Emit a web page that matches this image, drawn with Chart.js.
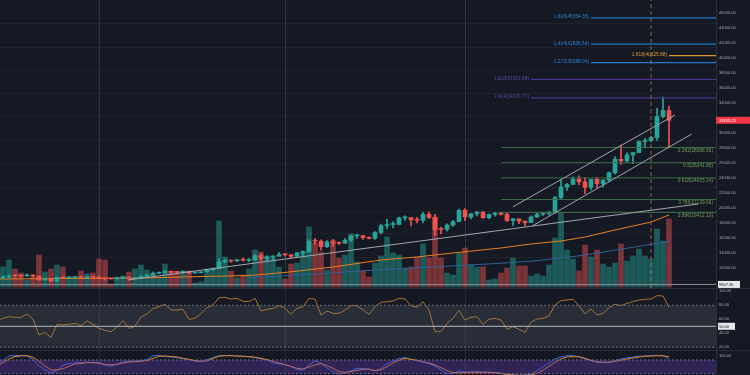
<!DOCTYPE html>
<html>
<head>
<meta charset="utf-8">
<script src="https://cdn.jsdelivr.net/npm/chart.js@4.4.0/dist/chart.umd.min.js"></script>
<style>
  html, body { margin: 0; padding: 0; background: #2a2e39; }
  #wrap { position: relative; width: 750px; height: 375px; overflow: hidden; background: #2a2e39; }
  canvas { position: absolute; left: 0; }
  #main { top: 0; }
  #rsi { top: 289px; }
  #stoch { top: 351px; }
</style>
</head>
<body>
<div id="wrap">
  <canvas id="main" width="750" height="288"></canvas>
  <canvas id="rsi" width="750" height="61"></canvas>
  <canvas id="stoch" width="750" height="24"></canvas>
</div>
<script>
// BTC daily, 14 Sep 2020 .. 4 Jan 2021 (index 0..112)
const opens = [10330,10680,10790,10955,10940,10930,11080,10920,10420,10530,
  10240,10740,10690,10730,10775,10700,10840,10780,10620,10570,
  10550,10670,10790,10600,10670,10920,11060,11300,11380,11550,
  11430,11420,11500,11320,11360,11500,11750,11920,12820,12970,
  12930,13110,13030,13070,13650,13280,13460,13560,13800,13760,
  13550,14030,14150,15590,15580,14840,15480,15330,15300,15700,
  16280,16320,16070,15960,16720,17650,17800,17820,18680,18720,
  18420,18370,19160,18730,17150,17140,17720,18180,19700,18800,
  19220,19450,18700,19150,19360,19170,18320,18550,18250,18040,
  18800,19170,19270,19440,21380,22800,23140,23870,23480,22750,
  23820,23240,23730,24710,26490,26280,27080,27390,28880,28990,
  29390,32200,33000];
const highs = [10800,10940,11100,11040,11050,11180,11100,10990,10590,10560,
  10780,10760,10780,10800,10950,10880,10850,10920,10650,10600,
  10690,10800,10800,10680,10940,11100,11480,11440,11720,11560,
  11550,11630,11550,11420,11500,11820,12000,13220,13180,13020,
  13170,13350,13240,13780,13850,13620,13640,14090,13900,13810,
  14070,14240,15750,15960,15760,15650,15800,15450,15940,16340,
  16480,16320,16150,16870,17850,18480,18140,18790,18950,18700,
  18770,19420,19490,19150,17450,17900,18350,19860,19920,19300,
  19560,19520,19180,19420,19420,19290,18630,18560,18270,18940,
  19410,19350,19550,21550,23770,23290,24170,24280,24100,23830,
  24100,23800,24790,26870,28400,27390,27400,28950,29300,29600,
  33300,34800,33600];
const lows = [10280,10640,10700,10800,10800,10900,10820,10380,10370,10200,
  10230,10600,10640,10600,10650,10640,10700,10550,10400,10500,
  10500,10650,10540,10590,10650,10830,11050,11240,11340,11280,
  11300,11280,11230,11300,11340,11440,11700,11900,12700,12740,
  12900,12920,12800,13060,13000,12990,13110,13660,13570,13300,
  13530,13550,14100,15160,14380,14720,14830,15100,15270,15500,
  15950,15800,15870,15800,16550,17220,17350,17760,18330,17620,
  18000,18020,18580,16300,16550,16900,17550,18180,18320,18530,
  18940,18600,18560,18920,19050,18200,17650,17910,17600,18030,
  18750,19000,19050,19300,21250,22350,23100,23080,21900,22400,
  22700,22780,23470,24500,25800,26100,25900,27370,28000,28800,
  29000,32000,28000];
const closes = [10680,10790,10955,10940,10930,11080,10920,10420,10530,10240,
  10740,10690,10730,10775,10700,10840,10780,10620,10570,10550,
  10670,10790,10600,10670,10920,11060,11300,11380,11550,11430,
  11420,11500,11320,11360,11500,11750,11920,12820,12970,12930,
  13110,13030,13070,13650,13280,13460,13560,13800,13760,13550,
  14030,14150,15590,15580,14840,15480,15330,15300,15700,16280,
  16320,16070,15960,16720,17650,17800,17820,18680,18720,18420,
  18370,19160,18730,17150,17140,17720,18180,19700,18800,19220,
  19450,18700,19150,19360,19170,18320,18550,18250,18040,18800,
  19170,19270,19440,21380,22800,23140,23870,23480,22750,23820,
  23240,23730,24710,26490,26280,27080,27390,28880,28990,29390,
  32200,33000,31695.23];
const volumes = [14,20,27,18,14,7,10,32,15,18,
  22,20,10,10,16,13,14,28,27,3,
  10,11,15,18,22,17,13,10,23,16,
  15,16,16,4,5,18,19,66,30,16,
  9,12,18,37,35,31,29,20,8,23,
  24,36,60,44,35,17,47,29,32,53,
  25,16,10,24,31,50,34,32,19,20,
  30,43,29,70,29,14,12,34,39,22,
  20,20,7,8,14,19,29,21,21,11,
  13,11,22,49,74,37,28,16,42,30,
  37,23,20,24,43,26,31,38,31,28,
  58,46,68];
const rsi = [58,61.4,63.8,62.8,62.8,67.6,60,37.6,41.4,34.2,
  52.8,51.9,52.8,54.2,50.9,57.6,52.8,47,44.2,42.3,
  49,58,47,50,63.3,67.6,75.2,78,81.4,73.3,
  73.3,74.2,60,61.4,68,76.6,80.4,90.9,91.4,89,
  90,85.7,85.2,90,71.9,74.2,75.7,79.5,75.7,67,
  75.7,78,90,89,66.1,71.9,68.5,68.5,73.3,79.5,
  79.5,73.3,67,78,84.2,85.2,86.1,90,89,79.5,
  77.1,85.2,72.8,42.3,42.3,54.2,61.4,72.8,59,62.8,
  63.8,52.8,60,61.4,59,45.7,49.5,45.7,41.4,55.7,
  60.4,61.4,64.7,80.4,86.6,87.6,88.5,79.5,67.6,74.7,
  66.1,68.5,76.6,81.4,79.5,82.8,85.2,87.6,88.5,89,
  93.8,93.3,77.1];
const stochK = [62.3,78.6,97.8,100,99.3,97.8,81.6,55,35.7,22.3,
  32.7,56.4,63.8,67.5,69.7,69.7,69.7,68.2,57.9,51.9,
  60.8,71.2,75.6,75.6,77.1,81.6,99.3,99.3,96.4,93.4,
  90.4,86,81.6,74.2,72.7,81.6,90.4,99.3,99.3,99.3,
  97.8,96.4,94.9,90.4,86,80.1,66.7,62.3,59.3,50.5,
  38.6,34.2,57.9,75.6,66.7,44.5,28.2,17.9,22.3,31.2,
  43,41.6,38.6,31.2,41.6,63.8,75.6,86,90.4,83,
  77.1,71.2,63.8,53.4,34.2,19.4,20.9,31.2,26.8,25.3,
  28.2,26.8,25.3,23.8,20.9,16.4,13.4,12,13.4,16.4,
  32.7,50.5,65.3,84.5,93.4,99.3,99.3,93.4,84.5,77.1,
  71.2,69.7,69.7,77.1,84.5,88.9,93.4,96.4,97.8,99.3,
  99.3,99.3,84.5];
const stochD = [54.9,68.2,84.5,94.9,98.6,99.3,91.9,74.2,53.4,35.7,
  35.7,41.6,51.9,62.3,63.8,68.2,68.2,65.3,59.3,59.3,
  60.8,66.7,71.2,72.7,74.2,77.1,87.5,96.4,97.8,95.6,
  93.4,87.5,83,77.1,75.6,75.6,87.5,96.4,99.3,99.3,
  97.8,96.4,94.9,91.9,87.5,81.6,74.2,66.7,59.3,51.9,
  43,40.1,49,57.9,63.8,54.9,43,28.2,25.3,28.2,
  34.2,38.6,40.1,33,35.7,50.5,66.7,78.6,87.5,83,
  78.6,72.7,66.7,57.9,46,32.7,23.8,22.3,25.3,25.3,
  25.3,25.3,25.3,23.8,20.9,16.4,13.4,12,12,13.4,
  20.9,34.2,51.9,69.7,84.5,93.4,94.9,94.9,87.5,78.6,
  71.2,69.7,69.7,74.2,78.6,84.5,88.9,93.4,96.4,97.8,
  99.3,98.6,94.9];

// moving averages, read at a few candles
const orangeIdx = [0, 11, 22, 33, 42, 48, 56, 64, 70, 76, 84, 89, 94, 98, 103, 109, 112];
const orangeVals = [10530, 10600, 10630, 10840, 11000, 11400, 12130, 13070, 13470, 14000, 14670, 15200, 15600, 16130, 17070, 18130, 19070];
const blueIdx = [42, 55, 63, 84, 90, 98, 112];
const blueVals = [10700, 11300, 11730, 12630, 12970, 13730, 15550];

// drawings
const trendLong = [[21.83, 10400], [116.83, 20533]];
const channelUpper = [[86, 20170], [113, 32400]];
const channelLower = [[89.2, 17600], [115.8, 29870]];
const supportPrice = 9807.36;
const monthBreaks = [17, 48, 78];
const yearBreak = 109;

const fibRetrRatios = [0.382, 0.5, 0.618, 0.786, 0.886];
const fibRetrPrices = [28068.56, 26041.85, 24015.14, 21129.66, 19412.10];
const fibBlueRatios = [1.618, 1.414, 1.272];
const fibBluePrices = [45354.35, 41836.64, 39388.04];
const fibOrangeRatios = [1.618];
const fibOrangePrices = [40325.88];
const fibPurpleRatios = [1.618, 1.414];
const fibPurplePrices = [37151.68, 34676.77];
const fibStart = { green: 84, blue: 99, orange: 112, purple: 89 };

const priceTicks = [12000,14000,16000,18000,20000,22000,24000,26000,28000,30000,34000,36000,38000,40000,42000,44000,46000];
const gridPrices = [10400,13470,16670,19600,22800,26000,29100,32200,35300,38400,41500,44600];

const UP = '#26a69a', DOWN = '#ef5350';
const X_MIN = 0.5, X_MAX = 119.83;
const BG = '#151924';
const FONT = 'Liberation Sans, Arial, sans-serif';

const isUp = closes.map((c, i) => c >= opens[i]);
const pts = (arr) => arr.map(p => ({ x: p[0], y: p[1] }));
const hline = (x0, y) => [{ x: x0, y: y }, { x: X_MAX, y: y }];

function lineDs(data, color, extra) {
    return Object.assign({
        type: 'line', data: data, borderColor: color, borderWidth: 1,
        pointRadius: 0, fill: false, tension: 0, order: 0
    }, extra || {});
}

function rightAxis(min, max, ticks, fmt) {
    return {
        position: 'right', min: min, max: max,
        grid: { display: false, drawTicks: false }, border: { display: false },
        afterBuildTicks: s => { s.ticks = ticks.map(v => ({ value: v })); },
        afterFit: s => { s.width = 34; s.paddingTop = 0; s.paddingBottom = 0; },
        ticks: { color: '#a4a7b0', padding: 3, font: { size: 4, family: FONT }, callback: fmt }
    };
}

const paneDeco = {
    id: 'paneDeco',
    beforeDraw(chart, args, o) {
        const { ctx, width, height, chartArea } = chart;
        ctx.save();
        ctx.fillStyle = BG;
        ctx.fillRect(0, 0, width, height);
        const x = chart.scales.x, y = chart.scales.y;
        ctx.lineWidth = 1;
        ctx.strokeStyle = o.hgrid;
        (o.hvals || []).forEach(v => {
            const py = Math.round(y.getPixelForValue(v)) + 0.5;
            ctx.beginPath(); ctx.moveTo(chartArea.left, py); ctx.lineTo(chartArea.right, py); ctx.stroke();
        });
        ctx.strokeStyle = o.vgrid;
        monthBreaks.forEach(i => {
            const px = Math.round(x.getPixelForValue(i)) + 0.5;
            ctx.beginPath(); ctx.moveTo(px, 0); ctx.lineTo(px, height); ctx.stroke();
        });
        ctx.fillStyle = '#2a2e39';
        ctx.fillRect(chartArea.right, 0, 1, height);
        ctx.restore();
    },
    afterDraw(chart, args, o) {
        const { ctx, chartArea } = chart;
        const x = chart.scales.x, y = chart.scales.y;
        ctx.save();
        (o.fibs || []).forEach(f => {
            ctx.font = '4.8px ' + FONT;
            ctx.fillStyle = f.color;
            ctx.textAlign = 'right';
            f.ratios.forEach((r, k) => {
                const txt = r + '(' + f.prices[k].toFixed(2) + ')';
                const py = y.getPixelForValue(f.prices[k]);
                if (f.inside) {
                    ctx.textBaseline = 'top';
                    ctx.fillText(txt, chartArea.right - 3, py + 0.8);
                } else {
                    ctx.textBaseline = 'bottom';
                    ctx.fillText(txt, x.getPixelForValue(f.start) - 2, py + 1.5);
                }
            });
        });
        (o.boxes || []).forEach(b => {
            const py = y.getPixelForValue(b.value);
            ctx.fillStyle = b.bg;
            ctx.fillRect(chartArea.right + (b.full ? 0 : 2), py - 3.5, b.w, 7);
            ctx.fillStyle = b.color;
            ctx.font = '4px ' + FONT;
            ctx.textAlign = 'left';
            ctx.textBaseline = 'middle';
            ctx.fillText(b.text, chartArea.right + 3, py + 0.3);
        });
        ctx.restore();
    }
};

const commonOpts = {
    responsive: false, animation: false,
    layout: { padding: 0 },
    plugins: { legend: { display: false }, tooltip: { enabled: false } }
};

// ---- main pane
const mainDatasets = [
    {
        type: 'bar', yAxisID: 'yVol', order: 10, grouped: false, barThickness: 5,
        data: volumes.map((v, i) => ({ x: i, y: v })),
        backgroundColor: isUp.map(u => u ? 'rgba(38,166,154,0.47)' : 'rgba(239,83,80,0.47)')
    },
    lineDs(blueIdx.map((v, k) => ({ x: v, y: blueVals[k] })), '#2f5f98', { order: 6 }),
    lineDs(orangeIdx.map((v, k) => ({ x: v, y: orangeVals[k] })), '#e8801e', { order: 5 }),
    {
        type: 'bar', order: 3, grouped: false, barThickness: 1,
        data: lows.map((l, i) => ({ x: i, y: [l, highs[i]] })),
        backgroundColor: isUp.map(u => u ? UP : DOWN)
    },
    {
        type: 'bar', order: 2, grouped: false, barThickness: 4, minBarLength: 1,
        data: opens.map((o, i) => ({ x: i, y: [o, closes[i]] })),
        backgroundColor: isUp.map(u => u ? UP : DOWN)
    },
    lineDs(hline(X_MIN, supportPrice), '#8c8f99'),
    lineDs([{ x: yearBreak, y: 9333 }, { x: yearBreak, y: 47733 }], 'rgba(200,130,60,0.7)', { borderDash: [4, 3] }),
    lineDs(pts(trendLong), '#a3a6af'),
    lineDs(pts(channelUpper), '#a3a6af'),
    lineDs(pts(channelLower), '#a3a6af')
];
fibRetrPrices.forEach(p => mainDatasets.push(lineDs(hline(fibStart.green, p), '#3e6c46')));
fibBluePrices.forEach(p => mainDatasets.push(lineDs(hline(fibStart.blue, p), '#2178cc', { borderWidth: 1.2 })));
fibOrangePrices.forEach(p => mainDatasets.push(lineDs(hline(fibStart.orange, p), '#d9952f', { borderWidth: 1.2 })));
fibPurplePrices.forEach(p => mainDatasets.push(lineDs(hline(fibStart.purple, p), '#4b368d', { borderWidth: 1.2 })));

new Chart(document.getElementById('main'), {
    type: 'bar',
    data: { datasets: mainDatasets },
    options: Object.assign({}, commonOpts, {
        plugins: Object.assign({}, commonOpts.plugins, {
            paneDeco: {
                hgrid: 'rgba(42,46,57,0.45)', hvals: gridPrices, vgrid: '#2e323d',
                fibs: [
                    { ratios: fibRetrRatios, prices: fibRetrPrices, color: '#6f9e5e', inside: true },
                    { ratios: fibBlueRatios, prices: fibBluePrices, color: '#2a80d6', start: fibStart.blue },
                    { ratios: fibOrangeRatios, prices: fibOrangePrices, color: '#dd9a35', start: fibStart.orange },
                    { ratios: fibPurpleRatios, prices: fibPurplePrices, color: '#5c48a6', start: fibStart.purple }
                ],
                boxes: [
                    { value: closes[closes.length - 1], text: closes[closes.length - 1].toFixed(2), bg: '#f23645', color: '#ffffff', w: 34, full: true },
                    { value: supportPrice, text: supportPrice.toFixed(2), bg: '#e6e7ea', color: '#131722', w: 22 }
                ]
            }
        }),
        scales: {
            x: { type: 'linear', min: X_MIN, max: X_MAX, display: false, offset: false },
            y: rightAxis(9333.3, 47733.3, priceTicks, v => v.toFixed(2)),
            yVol: { display: false, min: -1, max: 287 }
        }
    }),
    plugins: [paneDeco]
});

// ---- RSI pane
new Chart(document.getElementById('rsi'), {
    type: 'line',
    data: {
        datasets: [
            lineDs(hline(X_MIN, 80), '#6a6d78', { borderDash: [2, 2], fill: { value: 20 }, backgroundColor: 'rgba(120,123,134,0.2)' }),
            lineDs(hline(X_MIN, 20), '#6a6d78', { borderDash: [2, 2] }),
            lineDs(hline(X_MIN, 50), '#c8cad0'),
            lineDs(rsi.map((v, i) => ({ x: i, y: v })), '#a8732e')
        ]
    },
    options: Object.assign({}, commonOpts, {
        plugins: Object.assign({}, commonOpts.plugins, {
            paneDeco: {
                vgrid: '#262a35',
                boxes: [{ value: 50, text: '50.00', bg: '#e6e7ea', color: '#131722', w: 17 }]
            }
        }),
        scales: {
            x: { type: 'linear', min: X_MIN, max: X_MAX, display: false },
            y: rightAxis(16.14, 103.29, [100, 80, 60, 40, 20], v => v.toFixed(2))
        }
    }),
    plugins: [paneDeco]
});

// ---- Stoch RSI pane
new Chart(document.getElementById('stoch'), {
    type: 'line',
    data: {
        datasets: [
            lineDs(hline(X_MIN, 80), '#6a6d78', { borderDash: [2, 2], fill: { value: 20 }, backgroundColor: 'rgba(103,58,183,0.35)' }),
            lineDs(hline(X_MIN, 20), '#6a6d78', { borderDash: [2, 2] }),
            lineDs(stochD.map((v, i) => ({ x: i, y: v })), '#e8802a'),
            lineDs(stochK.map((v, i) => ({ x: i, y: v })), '#2f6fe6')
        ]
    },
    options: Object.assign({}, commonOpts, {
        plugins: Object.assign({}, commonOpts.plugins, {
            paneDeco: { vgrid: '#262a35' }
        }),
        scales: {
            x: { type: 'linear', min: X_MIN, max: X_MAX, display: false },
            y: rightAxis(13.33, 120, [100], v => v.toFixed(2))
        }
    }),
    plugins: [paneDeco]
});
</script>
</body>
</html>
